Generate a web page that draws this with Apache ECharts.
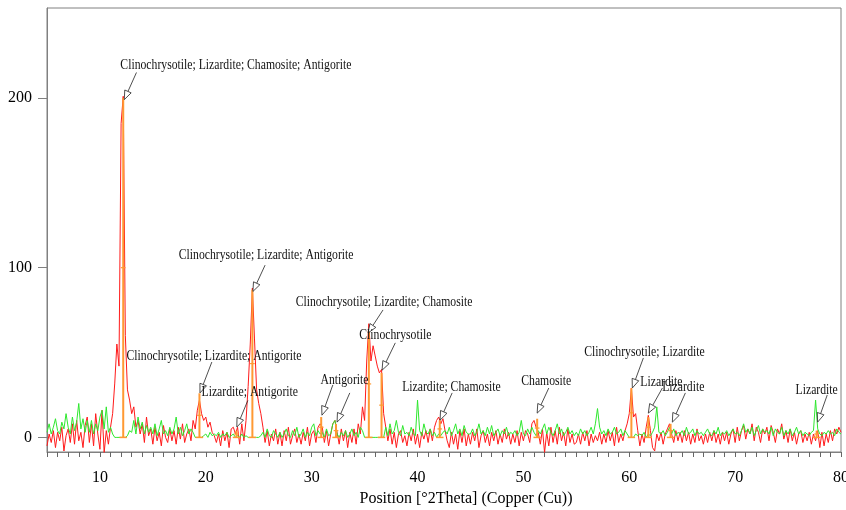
<!DOCTYPE html>
<html>
<head>
<meta charset="utf-8">
<script src="https://cdn.jsdelivr.net/npm/echarts@6/dist/echarts.min.js"></script>
<style>
  html, body { margin: 0; background: #fff; }
  #xrdChart { width: 846px; height: 510px; }
</style>
</head>
<body>
<div id="xrdChart"></div>
<script>
// scan grid: 5.0 .. 80.0 °2Theta, step 0.2
const scanStart = 5;
const scanStep = 0.2;

// measured pattern (red), one row = 2 °2Theta
const observed = [
  -5, 2, -3, 4, -6, 3, -2, 6, -8, 1,
  5, -3, 8, -4, 10, -2, 3, -6, 7, 12,
  -3, 8, -5, 14, 2, -7, 16, -9, 4, -4,
  6, 14, 32, 55, 42, 185, 201, 60, 28, 22,
  14, 18, 6, 10, 2, 8, -3, 12, 1, 5,
  -4, 6, -2, 3, -5, 7, 0, -3, 5, -2,
  4, -4, 6, -1, 8, -3, 2, 5, -2, 10,
  5, 16, 22, 14, 10, 12, 6, 9, 3, 1,
  -3, 2, -5, 4, -2, 3, -6, 5, 6, 2,
  6, -4, 8, -2, 10, 30, 55, 88, 58, 28,
  20, 14, 6, -3, 4, -5, 2, -2, 5, -4,
  3, -5, 4, -2, 6, -4, 1, 5, -3, 2,
  -4, 3, -2, 6, -5, 2, 4, -3, 6, 8,
  6, -3, 4, -5, 2, 8, 10, 3, -4, 5,
  -2, 4, -6, 3, -3, 5, -4, 8, 2, 18,
  10, 45, 67, 45, 54, 48, 42, 38, 40, 14,
  6, -2, 5, -4, 3, -6, 2, 4, -3, 1,
  -5, 3, -2, 5, -4, 2, -6, 3, -1, 4,
  -3, 5, -2, 6, 10, 12, 8, 11, 4, -2,
  -6, 3, -4, 2, -7, 4, -3, 5, -5, 2,
  -4, 3, -2, 5, -6, 1, 4, -3, 2, -5,
  3, -2, 4, -4, 2, -3, 5, -1, 3, -4,
  2, -3, 4, -5, 3, -2, 4, 2, -3, 8,
  10, 6, 3, -4, 5, -9, 3, -5, 6, -3,
  4, -4, 6, -2, 3, -5, 5, -3, 2, -4,
  -3, 2, -4, 3, -2, 4, -5, 2, -3, 1,
  -2, 3, -4, 2, -3, 4, -2, 3, -5, 6,
  -3, 2, -2, 4, 8, 14, 29, 12, 14, 4,
  -5, 2, -3, 6, 13, 4, -6, -8, 2, -2,
  3, -4, 2, 5, 8, 2, -3, 4, -2, 3,
  -3, 4, -2, 3, -4, 2, -3, 5, -2, 1,
  -4, 2, -3, 3, -2, 4, -3, 2, -4, 3,
  -2, 3, -4, 2, 5, -3, 6, -2, 4, 7,
  -1, 5, 2, 8, -2, 6, 3, -3, 5, 2,
  6, -2, 7, 3, -3, 5, 2, 8, -1, 4,
  -3, 5, -2, 3, -4, 2, 4, -3, 2, -2,
  3, -4, 2, -2, 4, -6, 3, -5, 2, -3,
  4, -2, 5, 2, 6, 3
];

// second pattern (green)
const secondary = [
  3, 8, 2, 6, 11, 4, 2, 9, 5, 14,
  6, 2, 12, 4, 9, 20, 5, 11, 3, 10,
  3, 10, 2, 8, 4, 12, 16, 5, 18, 3,
  6, 2, 0, 0, 0, 0, 0, 0, 1, 4,
  3, 10, 2, 12, 5, 9, 2, 7, 3, 6,
  2, 8, 1, 5, 10, 2, 4, 1, 6, 2,
  5, 12, 2, 6, 1, 4, 8, 2, 5, 3,
  0, 0, 0, 0, 1, 2, 0, 3, 1, 2,
  1, 3, 0, 2, 1, 3, 0, 1, 2, 0,
  1, 0, 2, 0, 1, 0, 0, 0, 0, 0,
  0, 1, 3, 0, 5, 1, 0, 4, 2, 0,
  3, 0, 2, 5, 1, 0, 4, 1, 6, 0,
  2, 5, 0, 3, 1, 6, 8, 1, 4, 2,
  3, 0, 5, 1, 2, 8, 10, 2, 0, 3,
  1, 4, 0, 2, 5, 1, 3, 0, 6, 4,
  0, 0, 0, 0, 0, 0, 0, 0, 0, 0,
  6, 1, 8, 2, 4, 10, 3, 1, 7, 2,
  3, 1, 6, 2, 1, 22, 4, 1, 8, 3,
  2, 5, 1, 3, 0, 2, 1, 3, 4, 2,
  6, 1, 4, 8, 2, 5, 1, 7, 3, 2,
  2, 5, 1, 3, 8, 2, 4, 1, 6, 2,
  7, 1, 3, 5, 1, 4, 2, 6, 1, 3,
  2, 4, 1, 3, 10, 2, 1, 5, 2, 6,
  3, 1, 4, 2, 5, 8, 2, 6, 3, 1,
  4, 8, 2, 5, 1, 3, 6, 2, 4, 1,
  3, 1, 5, 2, 4, 1, 3, 6, 2, 8,
  17, 6, 2, 4, 1, 5, 2, 3, 6, 2,
  3, 5, 1, 4, 2, 0, 0, 0, 2, 1,
  2, 1, 3, 0, 2, 1, 3, 6, 18, 3,
  2, 4, 1, 3, 6, 2, 5, 1, 3, 2,
  4, 1, 6, 2, 3, 5, 1, 4, 2, 3,
  1, 3, 5, 2, 1, 4, 2, 6, 1, 3,
  2, 4, 1, 3, 5, 2, 3, 1, 4, 8,
  3, 5, 2, 6, 1, 4, 7, 2, 5, 3,
  4, 2, 6, 1, 5, 3, 2, 6, 1, 4,
  2, 5, 1, 3, 6, 2, 4, 1, 3, 2,
  1, 3, 4, 22, 5, 2, 1, 3, 2, 4,
  2, 3, 1, 5, 3, 2
];

// reference peak list (orange sticks)
const stickPos = [12.2, 19.4, 22.9, 24.4, 30.9, 32.3, 35.4, 36.6, 42.1, 51.3, 60.2, 61.8, 63.9, 77.7];
const stickHeight = [200, 26, 4, 87, 12, 8, 63, 38, 10, 11, 29, 12, 8, 4];

// phase annotations: text, arrow head, arrow tail, text centre (data units)
const annText = [
  'Clinochrysotile; Lizardite; Chamosite; Antigorite',
  'Clinochrysotile; Lizardite; Antigorite',
  'Clinochrysotile; Lizardite; Chamosite',
  'Clinochrysotile',
  'Clinochrysotile; Lizardite; Antigorite',
  'Lizardite; Antigorite',
  'Antigorite',
  '',
  'Lizardite; Chamosite',
  'Chamosite',
  'Clinochrysotile; Lizardite',
  'Lizardite',
  'Lizardite',
  'Lizardite'
];
const annHead = [[12.3, 199], [24.45, 86], [35.32, 61.5], [36.65, 39.6], [19.45, 26.2], [22.93, 6.1],
  [30.97, 13.1], [32.4, 9], [42.13, 10.2], [51.3, 14.3], [60.29, 29.1], [61.8, 14.3], [64.07, 9], [77.79, 9]];
const annTail = [[13.45, 215], [25.6, 101.5], [36.74, 75.1], [37.9, 55.7], [20.57, 44.4], [23.97, 21.8],
  [32.0, 30.9], [33.6, 26.2], [43.27, 26.2], [52.4, 29.1], [61.33, 46.8], [63.13, 29.1], [65.3, 26.2], [78.7, 25]];
const annLabel = [[22.84, 219.6], [25.7, 107.5], [36.84, 80.0], [37.9, 60.4], [20.77, 48], [24.15, 26.8],
  [33.1, 33.8], [33.6, 26.2], [43.2, 29.6], [52.16, 33.2], [61.43, 50.3], [63.04, 32.6], [65.1, 29.7], [77.7, 28]];

const labelStep = 10;
const countTicks = [0, 100, 200];

const serif = '"Liberation Serif", "Times New Roman", serif';

function toPairs(vals) {
  return vals.map((v, i) => [+(scanStart + i * scanStep).toFixed(1), v]);
}

function renderStick(params, api) {
  const x = api.value(0), h = api.value(1);
  const top = api.coord([x, h]);
  const base = api.coord([x, 0]);
  const bl = api.coord([x - 0.35, 0]), br = api.coord([x + 0.35, 0]);
  const ml = api.coord([x - 0.22, h / 2]), mr = api.coord([x + 0.22, h / 2]);
  return {
    type: 'group',
    children: [
      { type: 'line', shape: { x1: top[0], y1: top[1], x2: base[0], y2: base[1] }, style: { stroke: '#ff9933', lineWidth: 2 } },
      { type: 'line', shape: { x1: bl[0], y1: bl[1], x2: br[0], y2: br[1] }, style: { stroke: '#ff9933', lineWidth: 1.5 } },
      { type: 'line', shape: { x1: ml[0], y1: ml[1], x2: mr[0], y2: mr[1] }, style: { stroke: '#ff9933', lineWidth: 1.2 } }
    ]
  };
}

function renderNote(params, api) {
  const i = params.dataIndex;
  const head = api.coord(annHead[i]);
  const tail = api.coord(annTail[i]);
  const lab = api.coord(annLabel[i]);
  let dx = head[0] - tail[0], dy = head[1] - tail[1];
  const len = Math.sqrt(dx * dx + dy * dy) || 1;
  dx /= len; dy /= len;
  const hl = 9, hw = 3.5;
  const bx = head[0] - dx * hl, by = head[1] - dy * hl;
  const children = [
    { type: 'line', shape: { x1: tail[0], y1: tail[1], x2: bx, y2: by }, style: { stroke: '#222', lineWidth: 0.8 } },
    { type: 'polygon', shape: { points: [head, [bx - dy * hw, by + dx * hw], [bx + dy * hw, by - dx * hw]] },
      style: { fill: '#fff', stroke: '#222', lineWidth: 0.8 } }
  ];
  if (annText[i]) {
    children.push({
      type: 'text', x: lab[0], y: lab[1], scaleX: 0.78,
      style: { text: annText[i], font: '15px ' + serif, fill: '#111',
        align: 'center', verticalAlign: 'middle', textAlign: 'center', textVerticalAlign: 'middle' }
    });
  }
  return { type: 'group', children: children };
}

const chart = echarts.init(document.getElementById('xrdChart'));
chart.setOption({
  animation: false,
  backgroundColor: '#fff',
  grid: { left: 47, right: 5, top: 8, bottom: 58, containLabel: false, outerBoundsMode: 'none',
    show: true, borderColor: '#808080', borderWidth: 1 },
  xAxis: {
    type: 'value', min: 5, max: 80, interval: 1,
    name: 'Position [°2Theta] (Copper (Cu))',
    nameLocation: 'middle', nameGap: 38,
    nameTextStyle: { fontFamily: serif, fontSize: 16, color: '#000', padding: [0, 0, 0, 44] },
    axisLine: { onZero: false, lineStyle: { color: '#808080', width: 1 } },
    axisTick: { show: true, interval: 0, length: 5, lineStyle: { color: '#666' } },
    axisLabel: {
      interval: 0, margin: 18, fontFamily: serif, fontSize: 16, color: '#000',
      formatter: v => (Math.round(v) % labelStep === 0 ? String(Math.round(v)) : '')
    },
    splitLine: { show: false }
  },
  yAxis: {
    type: 'value', min: -8.6, max: 253,
    axisLine: { show: true, onZero: false, lineStyle: { color: '#808080', width: 1 } },
    axisTick: { show: true, customValues: countTicks, length: 9, lineStyle: { color: '#808080' } },
    axisLabel: { customValues: countTicks, margin: 15, fontFamily: serif, fontSize: 16, color: '#000' },
    splitLine: { show: false }
  },
  series: [
    { name: 'observed', type: 'line', data: toPairs(observed), showSymbol: false, symbol: 'none',
      lineStyle: { color: '#ff1a1a', width: 1 }, z: 2 },
    { name: 'secondary', type: 'line', data: toPairs(secondary), showSymbol: false, symbol: 'none',
      lineStyle: { color: '#2ee82e', width: 1 }, z: 3 },
    { name: 'sticks', type: 'custom', renderItem: renderStick, z: 4,
      data: stickPos.map((x, i) => [x, stickHeight[i]]) },
    { name: 'notes', type: 'custom', renderItem: renderNote, z: 5, clip: false,
      data: annText.map((t, i) => [annHead[i][0], annHead[i][1]]) }
  ]
});
</script>
</body>
</html>
